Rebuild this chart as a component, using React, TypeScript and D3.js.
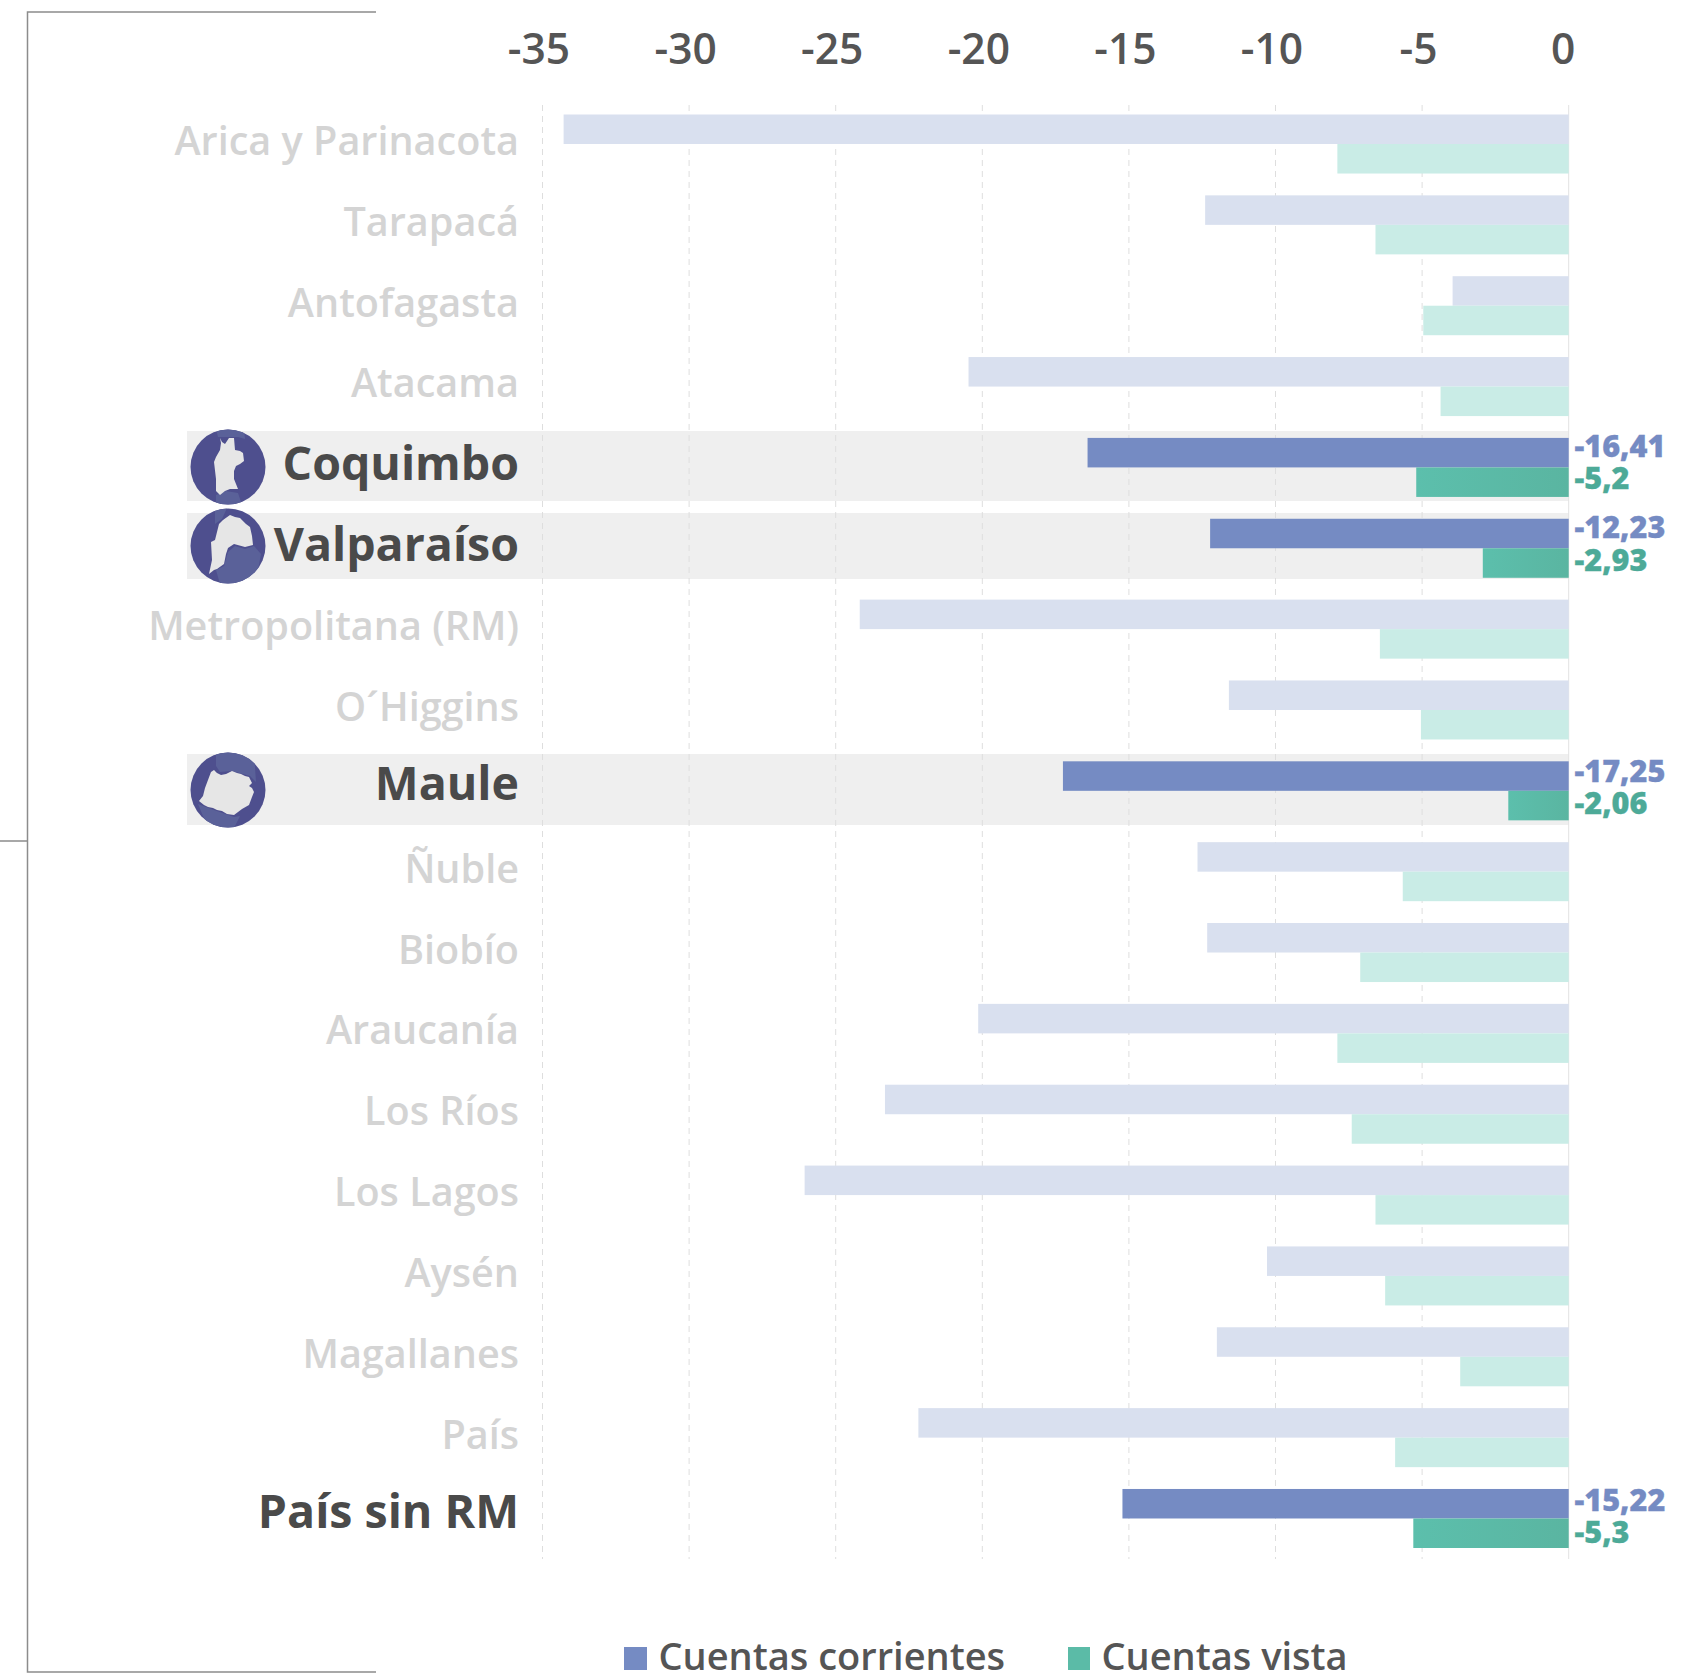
import React from "react";
import * as d3 from "d3";

const regions = ["Arica y Parinacota","Tarapacá","Antofagasta","Atacama","Coquimbo","Valparaíso","Metropolitana (RM)","O´Higgins","Maule","Ñuble","Biobío","Araucanía","Los Ríos","Los Lagos","Aysén","Magallanes","País","País sin RM"];
const corrientes = [-34.28,-12.4,-3.96,-20.47,-16.41,-12.23,-24.18,-11.59,-17.25,-12.66,-12.33,-20.14,-23.32,-26.06,-10.29,-12.0,-22.18,-15.22];
const vista = [-7.89,-6.59,-4.96,-4.37,-5.2,-2.93,-6.44,-5.04,-2.06,-5.66,-7.11,-7.89,-7.4,-6.59,-6.26,-3.7,-5.92,-5.3];
const highlighted = ["Coquimbo","Valparaíso","Maule","País sin RM"];
const banded = ["Coquimbo","Valparaíso","Maule"];
const xTicks = [-35,-30,-25,-20,-15,-10,-5,0];
const seriesNames = ["Cuentas corrientes","Cuentas vista"];

const FONT = "'Open Sans', sans-serif";
const BLUE = "#758BC3";
const GREEN = "#5BBBA7";
const BLUE_L = "#D9E0EF";
const GREEN_L = "#C9ECE6";

const x = d3.scaleLinear().domain([-35, 0]).range([542.5, 1568.7]);
const y = d3.scaleBand<string>().domain(regions).range([114.5, 1548]).paddingInner(0.27).paddingOuter(0);
const y1 = d3.scaleBand<string>().domain(seriesNames).range([0, y.bandwidth()]);

const fmt = (v: number) => String(v).replace(".", ",");
const line = d3.line().curve(d3.curveLinearClosed);

// Small per-row nudges of the reference's hand-placed texts
const labelNudge: Record<string, number> = { Coquimbo: -1, "Valparaíso": -1, Maule: -5, "País sin RM": -4, Atacama: -1 };
const valueNudge: Record<string, [number, number]> = { Coquimbo: [0.5, -0.5], "Valparaíso": [0.5, 0.5], Maule: [1.5, 1.5], "País sin RM": [3.5, 2.5] };

// Decorative region silhouettes, relative to the centre of each badge
const shapes: Record<string, { land: [number, number][]; tint: [number, number][][]; top: [number, number]; bandTop: number; bandBottom: number }> = {
  Coquimbo: {
    top: [228, 467], bandTop: 431, bandBottom: 501,
    land: [[-8,-29],[-6,-25],[-3,-23],[1,-29],[6,-29],[7,-17],[12,-16],[15,-14],[16,-6],[12,-3],[8,-1],[6,4],[6,12],[8,17],[10,22],[2,22],[-3,24],[-8,28],[-12,24],[-12,12],[-14,-5],[-12,-10],[-8,-17],[-7,-24]],
    tint: [[[-12,-38],[16,-38],[17,-28],[10,-30],[-2,-30],[-10,-30]], [[-12,28],[-2,24],[10,26],[14,38],[-12,38]]],
  },
  "Valparaíso": {
    top: [228, 546], bandTop: 513, bandBottom: 579,
    land: [[-9,-22],[-5,-26],[2,-31],[7,-29],[12,-28],[18,-22],[22,-19],[24,-10],[25,-1],[17,1],[6,-2],[0,2],[-2,8],[-4,18],[-11,23],[-14,24],[-19,28],[-16,14],[-17,-4],[-13,-6],[-11,-14]],
    tint: [[[-13,-38],[-1,-38],[-6,-27],[-13,-22],[-13,-28]], [[-12,24],[-4,20],[0,6],[7,0],[17,3],[26,0],[33,8],[30,24],[14,38],[-8,38]]],
  },
  Maule: {
    top: [228, 790], bandTop: 754, bandBottom: 825,
    land: [[-14,-20],[-11,-17],[-7,-15],[-2,-16],[4,-19],[9,-17],[13,-16],[17,-14],[21,-13],[24,-7],[21,-4],[24,-2],[26,2],[24,7],[21,15],[14,19],[6,25],[-1,24],[-6,21],[-11,20],[-15,18],[-20,17],[-24,15],[-29,11],[-25,6],[-23,-2],[-20,-10],[-17,-18]],
    tint: [[[-12,-38],[26,-38],[28,-8],[22,-14],[4,-19],[-8,-18],[-12,-24]], [[-30,14],[-14,20],[6,27],[12,26],[6,38],[-20,38]]],
  },
};

function Badge({ name }: { name: string }) {
  const s = shapes[name];
  const id = `clip-${regions.indexOf(name)}`;
  return (
    <g transform={`translate(${s.top[0]},${s.top[1]})`}>
      <clipPath id={id}><circle r={37.5} /></clipPath>
      <circle r={37.5} fill="#4E4F8E" />
      <g clipPath={`url(#${id})`}>
        {s.tint.map((t, i) => <path key={i} d={line(t) as string} fill="#5A6199" />)}
      </g>
      <path d={line(s.land) as string} fill="#E6E6E6" />
    </g>
  );
}

export default function App() {
  return (
    <svg width={1702} height={1676} style={{ position: "absolute", left: 0, top: 0, display: "block" }} fontFamily={FONT}>
      <defs>
        <linearGradient id="greenFade" x1="0" x2="1" y1="0" y2="0">
          <stop offset="0" stopColor="#5CBFAC" />
          <stop offset="1" stopColor="#5AB5A1" />
        </linearGradient>
      </defs>
      <rect width={1702} height={1676} fill="#fff" />
      {/* frame */}
      <path d="M376,12 H27.5 V1672 H376 M0,841 H27.5" fill="none" stroke="#8c8c8c" strokeWidth={1.5} />

      {/* highlight bands */}
      {banded.map((n) => (
        <rect key={n} x={187} y={shapes[n].bandTop} width={x(0) - 187} height={shapes[n].bandBottom - shapes[n].bandTop} fill="#EFEFEF" />
      ))}

      {/* gridlines */}
      {xTicks.map((t) => (
        <line key={t} x1={x(t)} x2={x(t)} y1={105} y2={1559} stroke={t === 0 ? "#E2E2E2" : "#DEDEDE"} strokeWidth={1} strokeDasharray={t === 0 ? undefined : "6 5"} />
      ))}

      {/* x tick labels */}
      {xTicks.map((t) => (
        <text key={t} x={x(t) - (t === 0 ? 5.5 : 3.5)} y={64} textAnchor="middle" fontSize={42.5} fontWeight={600} fill="#555555">{t}</text>
      ))}

      {/* bars */}
      {regions.map((r, i) => {
        const on = highlighted.includes(r);
        const top = y(r) as number;
        const values = [corrientes[i], vista[i]];
        const n = valueNudge[r] || [0, 0];
        return (
          <g key={r}>
            {seriesNames.map((s, j) => (
              <rect key={s} x={x(values[j])} y={top + (y1(s) as number)} width={x(0) - x(values[j])} height={y1.bandwidth()}
                fill={on ? (j === 0 ? BLUE : "url(#greenFade)") : (j === 0 ? BLUE_L : GREEN_L)} />
            ))}
            {on && (
              <>
                <text x={1574.5} y={top + 19 + n[0]} fontSize={30.6} fontWeight={800} fill={BLUE} stroke={BLUE} strokeWidth={0.3}>{fmt(values[0])}</text>
                <text x={1574.5} y={top + 51.5 + n[1]} fontSize={30.6} fontWeight={800} fill="#4DAA98" stroke="#4DAA98" strokeWidth={0.3}>{fmt(values[1])}</text>
              </>
            )}
            <text x={519} y={top + y.bandwidth() / 2 + (on ? 14 : 11) + (labelNudge[r] || 0)} textAnchor="end"
              fontSize={on ? 46.5 : 39.6} fontWeight={on ? 700 : 600} fill={on ? "#4A4A4A" : "#D4D4D4"}>{r}</text>
          </g>
        );
      })}

      {/* badges */}
      {banded.map((n) => <Badge key={n} name={n} />)}

      {/* legend */}
      <rect x={624} y={1647} width={23} height={23} fill={BLUE} />
      <text x={658.5} y={1670} fontSize={38} fontWeight={600} fill="#555555">{seriesNames[0]}</text>
      <rect x={1068} y={1647} width={22} height={23} fill={GREEN} />
      <text x={1101.5} y={1670} fontSize={38} fontWeight={600} fill="#555555">{seriesNames[1]}</text>
    </svg>
  );
}
